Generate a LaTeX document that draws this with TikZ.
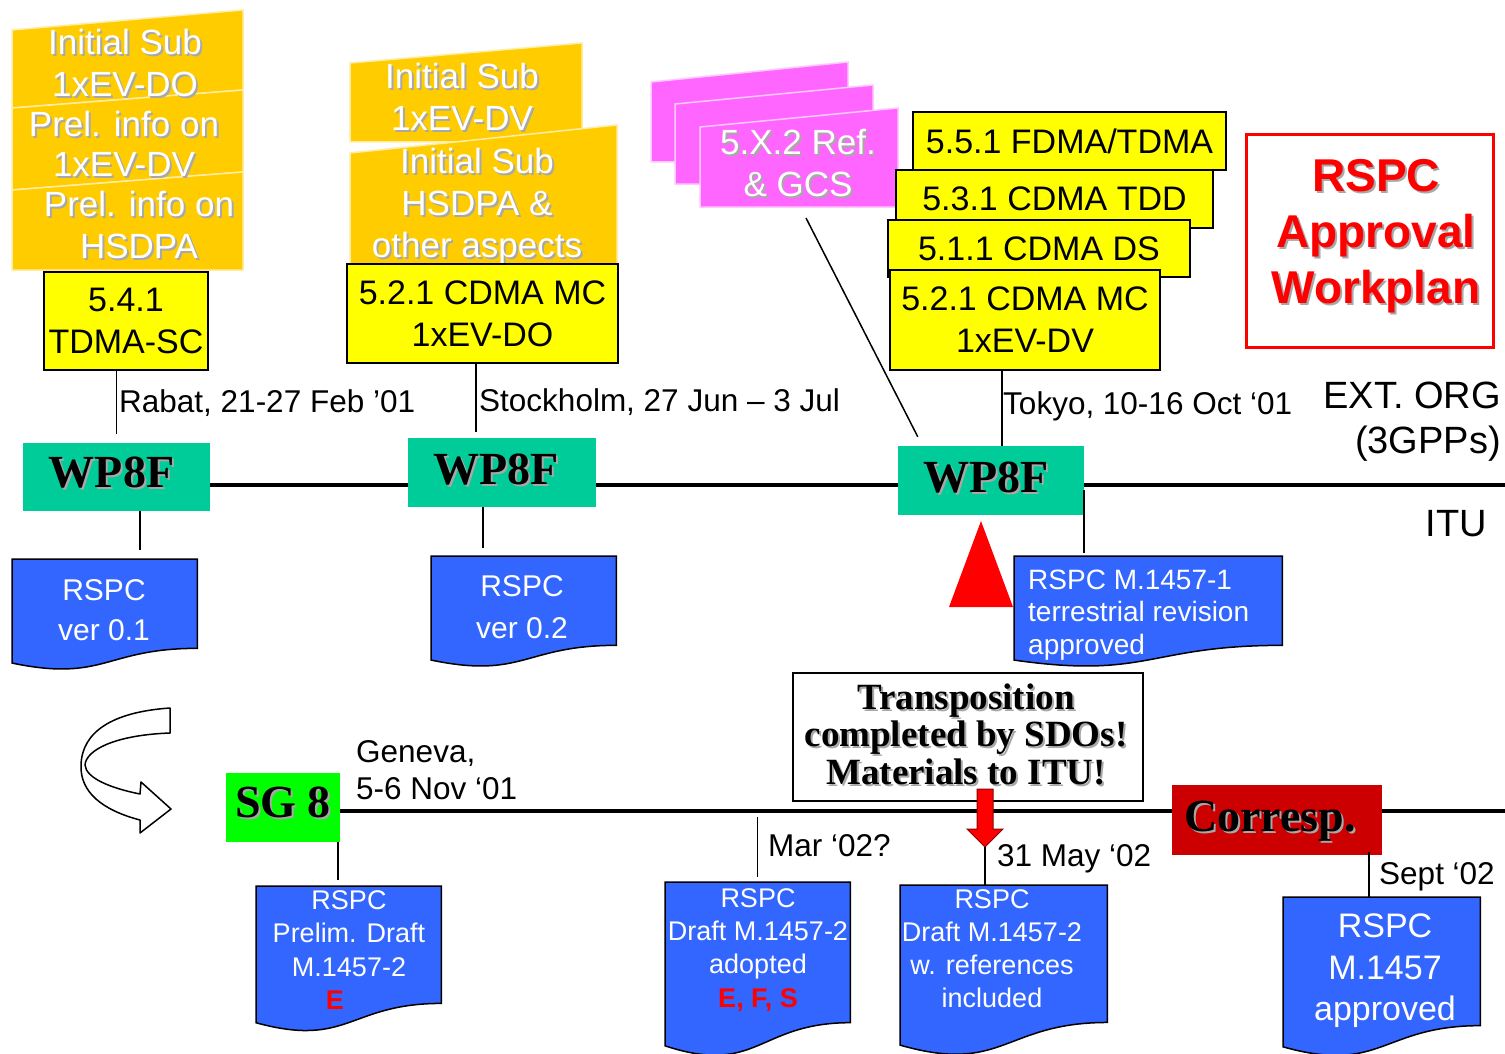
\documentclass[tikz,border=0pt]{standalone}
\usepackage{fontspec}
\setmainfont{Liberation Sans}
\newfontfamily\tnr{Liberation Serif}
\usetikzlibrary{calc}
\definecolor{orng}{HTML}{FFCC00}
\definecolor{ylw}{HTML}{FFFF00}
\definecolor{pnk}{HTML}{FF66FF}
\definecolor{tealc}{HTML}{00CC99}
\definecolor{docblue}{HTML}{3366FF}
\definecolor{sggreen}{HTML}{00FF00}
\definecolor{corred}{HTML}{CC0000}
\definecolor{shd}{HTML}{A8A8A8}
\newcommand\fs[2]{\fontsize{#1pt}{#2pt}\selectfont}
\newcommand\shtext[4]{%
  \node[#1,text=shd,xshift=2pt,yshift=-2pt] (#2-s) at (#3) {#4};
  \node[#1] (#2) at (#3) {#4};}
\newcommand\docpath[1]{%
  \path[docshape] let \p1=(#1.north west), \p2=(#1.south east) in
    (\x1,\y1) -- (\x2,\y1) -- (\x2,{\y1+0.802*(\y2-\y1)})
    .. controls ({0.5*(\x1+\x2)},{\y1+0.802*(\y2-\y1)}) and ({0.5*(\x1+\x2)},{\y1+1.1075*(\y2-\y1)}) .. (\x1,{\y1+0.934*(\y2-\y1)}) -- cycle;}
\begin{document}
\begin{tikzpicture}[x=1pt,y=-1pt,
 conn/.style={line width=1.5pt},
 tline/.style={line width=4pt},
 orshape/.style={fill=orng, draw=orng!35!white, line width=1.5pt},
 pkshape/.style={fill=pnk, draw=pnk!35!white, line width=1.5pt},
 ortext/.style={text=white, align=center, inner sep=0pt, font=\fs{35}{42}},
 ybox/.style={draw=black, line width=2pt, fill=ylw, inner sep=0pt, align=center, font=\fs{34}{42}},
 wpbox/.style={fill=tealc, inner sep=0pt, minimum width=187pt, minimum height=68pt},
 bigserif/.style={inner sep=0pt, font=\tnr\bfseries\fs{46}{50}},
 docnode/.style={inner sep=0pt, anchor=north west},
 docshape/.style={fill=docblue, draw=black, line width=1.5pt},
 dtext/.style={text=white, align=center, inner sep=0pt},
 lbl/.style={anchor=west, inner sep=0pt, font=\fs{31.5}{37}, align=left},
 rtitle/.style={text=red, align=center, inner sep=0pt, font=\bfseries\fs{46}{56}},
 trtext/.style={align=center, inner sep=0pt, font=\tnr\bfseries\fs{37}{37.5}},
]
\useasboundingbox (0,0) rectangle (1505,1054);
\fill[white] (0,0) rectangle (1505,1054);

% ---- left orange stack
\path[orshape] (12,30) -- (243,10) -- (243,90) -- (12,108) -- cycle;
\path[orshape] (12,108) -- (243,90) -- (243,172) -- (12,190) -- cycle;
\path[orshape] (12,190) -- (243,172) -- (243,270) -- (12,270) -- cycle;
\shtext{ortext}{o1t}{125,63}{Initial Sub\\1xEV-DO}
\shtext{ortext, font=\fs{35}{40}}{o2t}{124,144}{Prel. info on\\1xEV-DV}
\shtext{ortext}{o3t}{139,225}{Prel. info on\\HSDPA}

% ---- middle orange stack
\path[orshape] (350,63) -- (582,43) -- (582,142) -- (350,142) -- cycle;
\path[orshape] (350,153) -- (617,125) -- (617,266) -- (350,266) -- cycle;
\shtext{ortext}{oat}{462,97}{Initial Sub\\1xEV-DV}
\shtext{ortext}{obt}{477,206}{Initial Sub\\HSDPA \&\\other aspects}

% ---- yellow boxes left/middle
\node[ybox, minimum width=164pt, minimum height=98pt] (y541) at (126,321) {5.4.1\\TDMA-SC};
\node[ybox, minimum width=271pt, minimum height=99pt] (y521a) at (482.5,313.5) {5.2.1 CDMA MC\\1xEV-DO};

% ---- pink stack
\path[pkshape] (651,82) -- (848,62) -- (848,162) -- (651,162) -- cycle;
\path[pkshape] (675,104) -- (873,85) -- (873,184) -- (675,184) -- cycle;
\path[pkshape] (700,127) -- (898,108) -- (898,207) -- (700,207) -- cycle;
\shtext{ortext}{pkt}{798,163}{5.X.2 Ref.\\\& GCS}

% ---- yellow stack right
\node[ybox, minimum width=313pt, minimum height=58pt] (y551) at (1069.5,141) {5.5.1 FDMA/TDMA};
\node[ybox, minimum width=317pt, minimum height=58pt] (y531) at (1054.5,199) {5.3.1 CDMA TDD};
\node[ybox, minimum width=302pt, minimum height=57pt] (y511) at (1039,248.5) {5.1.1 CDMA DS};
\node[ybox, minimum width=270pt, minimum height=100pt] (y521b) at (1025,320) {5.2.1 CDMA MC\\1xEV-DV};

% ---- title box
\node[draw=red, line width=3pt, minimum width=247pt, minimum height=212pt, inner sep=0pt] (rbox) at (1369.5,241) {};
\shtext{rtitle}{rtt}{1376,236}{RSPC\\Approval\\Workplan}

% ---- upper timeline
\coordinate (t1end) at (1505,485);
\node[wpbox] (wp1) at (116.5,476.5) {};
\draw[tline] (wp1.east |- t1end) -- (t1end);
\node[wpbox, minimum width=188pt, minimum height=69pt] (wp2) at (502,472.5) {};
\node[wpbox, minimum width=186pt, minimum height=69pt] (wp3) at (991,480.5) {};
\shtext{bigserif}{wp1t}{$(wp1)+(-5,-4)$}{WP8F}
\shtext{bigserif}{wp2t}{$(wp2)+(-6,-3)$}{WP8F}
\shtext{bigserif}{wp3t}{$(wp3)+(-5,-3)$}{WP8F}

% ---- upper connectors
\draw[conn] (y541.south -| wp1.north) -- ($(wp1.north)+(0,-8)$);
\draw[conn] ($(y521a.south)+(-6.5,0)$) -- ($(y521a.south |- wp2.north)+(-6.5,-6)$);
\draw[conn] ($(y521b.south)+(-23,0)$) -- ($(y521b.south |- wp3.north)+(-23,0)$);
\coordinate (pk) at (806,218);
\draw[conn] (pk) -- ($(wp3.north west)+(20,-9)$);

% ---- red triangle
\fill[red] (949,607) -- (981,521) -- (1013,607) -- cycle;

% ---- upper documents
\node[docnode, minimum width=185pt, minimum height=111pt] (d1) at (12,559) {};
\node[docnode, minimum width=185pt, minimum height=111pt] (d2) at (431,556) {};
\node[docnode, minimum width=268pt, minimum height=111pt] (d3) at (1014,556) {};
\docpath{d1}
\docpath{d2}
\docpath{d3}
\node[dtext, font=\fs{30}{40}] (d1t) at (104,610) {RSPC\\ver 0.1};
\node[dtext, font=\fs{30}{42}] (d2t) at (522,607) {RSPC\\ver 0.2};
\node[dtext, font=\fs{28}{32.5}, align=left, anchor=west] (d3t) at (1028,615) {RSPC M.1457-1\\terrestrial revision\\approved};

\coordinate (a1) at ($(wp1.south)+(23.5,0)$);
\draw[conn] (a1) -- ($(a1 |- d1.north)+(0,-9)$);
\coordinate (a2) at ($(wp2.south)+(-19,0)$);
\draw[conn] (a2) -- ($(a2 |- d2.north)+(0,-8)$);
\coordinate (a3) at ($(wp3.south east)+(0,-25)$);
\draw[conn] (a3) -- ($(a3 |- d3.north)+(0,-3)$);

% ---- labels
\node[lbl] (lrabat) at (119,403) {Rabat, 21-27 Feb ’01};
\node[lbl] (lstock) at (479,402) {Stockholm, 27 Jun – 3 Jul};
\node[lbl] (ltokyo) at (1003,406) {Tokyo, 10-16 Oct ‘01};
\node[lbl, anchor=east, align=right, font=\fs{38}{45}] (lext) at (1501,422) {EXT. ORG\\(3GPPs)};
\node[lbl, anchor=east, font=\fs{38}{42}] (litu) at (1487,524) {ITU};
\node[lbl] (lgen) at (356,770) {Geneva,\\5-6 Nov ‘01};
\node[lbl] (lmar) at (768,846) {Mar ‘02?};
\node[lbl] (lmay) at (997,859) {31 May ‘02};
\node[lbl] (lsep) at (1379,877) {Sept ‘02};

% ---- curved block arrow
\draw[fill=white, line width=1.5pt, line join=round]
  (170,708) .. controls (112,712) and (82,732) .. (81,765)
  .. controls (80,792) and (102,810) .. (140,820)
  -- (140,833) -- (171,809) -- (141,782) -- (140,794)
  .. controls (110,788) and (86,778) .. (85,765)
  .. controls (86,750) and (115,735) .. (170,733) -- cycle;

% ---- lower timeline
\coordinate (t2end) at (1505,811);
\node[fill=sggreen, inner sep=0pt, minimum width=114pt, minimum height=69pt] (sg) at (283,807.5) {};
\draw[tline] (sg.east |- t2end) -- (t2end);
\shtext{bigserif}{sgt}{$(sg)+(0,-5)$}{SG 8}
\node[draw=black, line width=2pt, fill=white, minimum width=350pt, minimum height=128pt, inner sep=0pt] (tr) at (968,737) {};
\shtext{trtext}{trt}{966,734}{Transposition\\completed by SDOs!\\Materials to ITU!}
\node[fill=corred, inner sep=0pt, minimum width=210pt, minimum height=70pt] (cor) at (1276.5,820) {};
\shtext{bigserif}{cort}{1270,821}{Corresp.}
\draw[fill=red, draw=red!55!black, line width=1pt] (977,789) -- (993,789) -- (993,829) -- (1003,829) -- (985,847) -- (967,829) -- (977,829) -- cycle;

% ---- lower documents
\node[docnode, minimum width=185pt, minimum height=146pt] (d4) at (256,886) {};
\node[docnode, minimum width=185pt, minimum height=175pt] (d5) at (665,882) {};
\node[docnode, minimum width=207pt, minimum height=171pt] (d6) at (900,885) {};
\node[docnode, minimum width=197pt, minimum height=160pt] (d7) at (1283,897) {};
\docpath{d4}
\docpath{d5}
\docpath{d6}
\docpath{d7}
\node[dtext, font=\fs{27}{33.3}] (d4t) at (349,950) {RSPC\\Prelim. Draft\\M.1457-2\\\hspace*{-28pt}\textcolor{red}{\bfseries E}};
\node[dtext, font=\fs{27}{33.3}] (d5t) at (758,950) {RSPC\\Draft M.1457-2\\adopted\\\textcolor{red}{\bfseries E, F, S}};
\node[dtext, font=\fs{27}{33}] (d6t) at (992,949) {RSPC\\Draft M.1457-2\\w. references\\included};
\node[dtext, font=\fs{34}{41.5}] (d7t) at (1385,971) {RSPC\\M.1457\\approved};

% ---- lower connectors
\coordinate (b1) at ($(sg.south)+(55,0)$);
\draw[conn] (b1) -- ($(b1 |- d4.north)+(0,-6)$);
\draw[conn] ($(d5.north |- t2end)+(0,6)$) -- ($(d5.north)+(0,-5)$);
\coordinate (arrtip) at (985,847);
\draw[conn] (arrtip) -- (arrtip |- d6.north);
\coordinate (b4) at ($(cor.south)+(92.5,-3)$);
\draw[conn] (b4) -- (b4 |- d7.north);
\end{tikzpicture}
\end{document}
